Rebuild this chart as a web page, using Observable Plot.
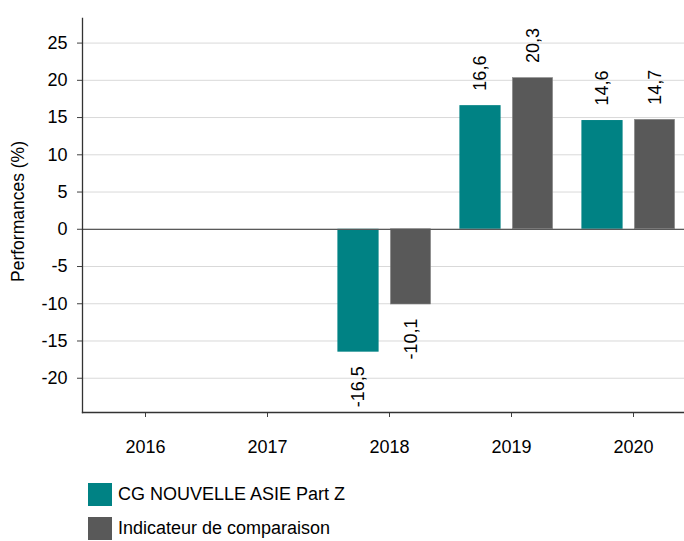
<!DOCTYPE html>
<html><head><meta charset="utf-8">
<script src="https://cdn.jsdelivr.net/npm/d3@7"></script>
<script src="https://cdn.jsdelivr.net/npm/@observablehq/plot@0.6"></script>
<style>
body{margin:0;background:#fff;font-family:"Liberation Sans",Arial,sans-serif;}
#wrap{position:relative;width:684px;height:541px;overflow:hidden;background:#fff}
#chart svg{overflow:hidden}
.leg{position:absolute;left:88px;display:flex;align-items:center;font-size:18px;color:#000;height:23px;white-space:nowrap}
.sw{width:24px;height:23px;margin-right:6px}
</style></head><body>
<div id="wrap"><div id="chart"></div><div id="legend"></div></div>
<script>
const years = ["2016", "2017", "2018", "2019", "2020"];
const fundValues = [null, null, -16.5, 16.6, 14.6];
const indexValues = [null, null, -10.1, 20.3, 14.7];
const fundLabels = ["", "", "-16,5", "16,6", "14,6"];
const indexLabels = ["", "", "-10,1", "20,3", "14,7"];
const seriesNames = ["CG NOUVELLE ASIE Part Z", "Indicateur de comparaison"];
const seriesColors = ["#008284", "#595959"];
const yTicks = [-20, -15, -10, -5, 0, 5, 10, 15, 20, 25];
const yLabel = "Performances (%)";

const fundData = years.map((y, i) => ({year: y, v: fundValues[i], label: fundLabels[i]})).filter(d => d.v != null);
const indexData = years.map((y, i) => ({year: y, v: indexValues[i], label: indexLabels[i]})).filter(d => d.v != null);

const font = "Liberation Sans, Arial, sans-serif";

function labels(data, dx) {
  return [
    Plot.text(data.filter(d => d.v > 0), {x: "year", y: "v", text: "label", rotate: -90, textAnchor: "start", dx, dy: -15, fontSize: 18, fill: "#000"}),
    Plot.text(data.filter(d => d.v < 0), {x: "year", y: "v", text: "label", rotate: -90, textAnchor: "end", dx, dy: 14, fontSize: 18, fill: "#000"})
  ];
}

const chart = Plot.plot({
  width: 684,
  height: 465,
  marginLeft: 82,
  marginRight: 0,
  marginTop: 18,
  marginBottom: 53,
  style: {fontFamily: font, fontSize: "18px", color: "#000", background: "#fff"},
  x: {domain: years, range: [82.6, 696.4], padding: 0},
  y: {domain: [-24.6, 28.3]},
  marks: [
    Plot.gridY(yTicks, {stroke: "#d9d9d9", strokeOpacity: 1}),
    Plot.barY(fundData, {x: "year", y: "v", fill: seriesColors[0], insetLeft: 9.4, insetRight: 71.4}),
    Plot.barY(indexData, {x: "year", y: "v", fill: seriesColors[1], stroke: "#8a8a8a", strokeWidth: 0.6, insetLeft: 62.4, insetRight: 19.4}),
    Plot.ruleY([0], {stroke: "#595959", strokeWidth: 1.3}),
    ...labels(fundData, -31),
    ...labels(indexData, 21.5),
    Plot.axisY(yTicks, {tickSize: 5, tickPadding: 10, fontSize: 18, stroke: "#404040", label: null, tickFormat: d => String(d)}),
    Plot.axisX({tickSize: 5, tickPadding: 23, fontSize: 18, stroke: "#404040", label: null}),
    Plot.frame({anchor: "left", stroke: "#333", strokeWidth: 1.3}),
    Plot.frame({anchor: "bottom", stroke: "#333", strokeWidth: 1.3}),
    Plot.text([yLabel], {frameAnchor: "left", text: d => d, rotate: -90, dx: -64, dy: -4, fontSize: 17.5, textAnchor: "middle", fill: "#000"})
  ]
});
document.getElementById("chart").appendChild(chart);

const legend = document.getElementById("legend");
seriesNames.forEach((name, i) => {
  const row = document.createElement("div");
  row.className = "leg";
  row.style.top = (483 + i * 34) + "px";
  const sw = document.createElement("div");
  sw.className = "sw";
  sw.style.background = seriesColors[i];
  row.appendChild(sw);
  row.appendChild(document.createTextNode(name));
  legend.appendChild(row);
});
</script>
</body></html>
